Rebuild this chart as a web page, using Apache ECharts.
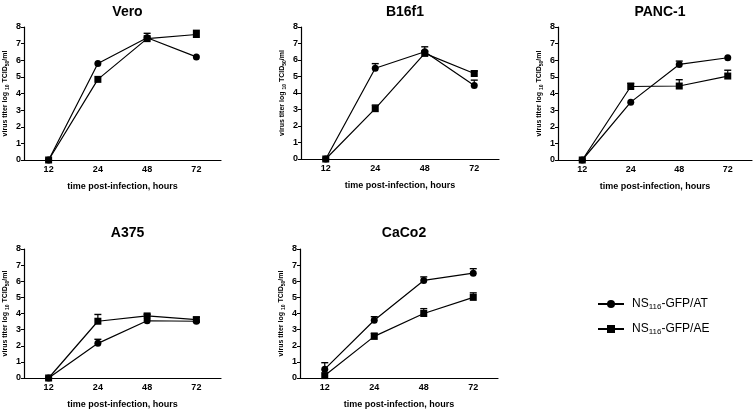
<!DOCTYPE html>
<html><head><meta charset="utf-8">
<script src="https://cdn.jsdelivr.net/npm/echarts@6/dist/echarts.min.js"></script>
<style>html,body{margin:0;padding:0;background:#fff}#c{width:756px;height:410px}</style>
</head><body><div id="c"></div>
<script>
const hours = ['12', '24', '48', '72'];
const panelNames = ['Vero', 'B16f1', 'PANC-1', 'A375', 'CaCo2'];
const seriesNames = ['NS116-GFP/AT', 'NS116-GFP/AE'];
const yTicks = [0, 8, 1];

const veroAT = [0, 5.8, 7.35, 6.2];
const veroATerr = [0, 0, 0, 0];
const veroAE = [0, 4.85, 7.3, 7.55];
const veroAEerr = [0, 0, 0.32, 0.25];

const b16AT = [0, 5.5, 6.5, 4.45];
const b16ATerr = [0, 0.28, 0.3, 0.33];
const b16AE = [0, 3.05, 6.4, 5.18];
const b16AEerr = [0, 0.22, 0.1, 0.15];

const pancAT = [0, 3.48, 5.75, 6.15];
const pancATerr = [0, 0, 0.2, 0];
const pancAE = [0, 4.42, 4.45, 5.05];
const pancAEerr = [0, 0.2, 0.38, 0.35];

const a375AT = [0, 2.15, 3.55, 3.52];
const a375ATerr = [0, 0.25, 0, 0];
const a375AE = [0, 3.52, 3.85, 3.62];
const a375AEerr = [0, 0.42, 0.1, 0.15];

const cacoAT = [0.55, 3.58, 6.05, 6.5];
const cacoATerr = [0.4, 0.22, 0.22, 0.28];
const cacoAE = [0.15, 2.58, 4.0, 5.0];
const cacoAEerr = [0, 0.2, 0.3, 0.28];

const AT = [veroAT, b16AT, pancAT, a375AT, cacoAT];
const ATerr = [veroATerr, b16ATerr, pancATerr, a375ATerr, cacoATerr];
const AE = [veroAE, b16AE, pancAE, a375AE, cacoAE];
const AEerr = [veroAEerr, b16AEerr, pancAEerr, a375AEerr, cacoAEerr];

// layout
const grids = [
  {left: 24, top: 27, width: 197, height: 133},
  {left: 301, top: 27, width: 198, height: 132},
  {left: 558, top: 27, width: 194, height: 133},
  {left: 24, top: 249, width: 197, height: 132},
  {left: 300, top: 249, width: 198, height: 132}
];
const FONT = '"Liberation Sans", Arial, sans-serif';

const chart = echarts.init(document.getElementById('c'));
const option = {
  backgroundColor: '#fff',
  animation: false,
  title: grids.map((g, i) => ({
    text: panelNames[i],
    left: g.left + g.width / 2,
    textAlign: 'center',
    top: i < 3 ? 0 : 221,
    textStyle: {fontFamily: FONT, fontSize: 14, fontWeight: 'bold', color: '#000'}
  })),
  legend: {
    data: seriesNames,
    orient: 'vertical',
    left: 592,
    top: 293,
    itemWidth: 26,
    itemHeight: 10,
    itemGap: 12,
    formatter: n => n.replace('NS116', 'NS{sub|116}'),
    textStyle: {
      fontFamily: FONT, fontSize: 12, color: '#000', padding: [0, 0, 0, 3],
      rich: {sub: {fontFamily: FONT, fontSize: 8, color: '#000', padding: [6, 0, 0, 0]}}
    }
  },
  grid: grids,
  xAxis: grids.map((g, i) => ({
    type: 'category',
    gridIndex: i,
    data: hours,
    boundaryGap: true,
    name: 'time post-infection, hours',
    nameLocation: 'middle',
    nameGap: 22,
    nameTextStyle: {fontFamily: FONT, fontSize: 9, fontWeight: 'bold', color: '#000'},
    axisLine: {lineStyle: {color: '#000', width: 1.2}},
    axisTick: {show: false},
    axisLabel: {fontFamily: FONT, fontSize: 9, fontWeight: 'bold', color: '#000', margin: 5},
    splitLine: {show: false}
  })),
  yAxis: grids.map((g, i) => ({
    type: 'value',
    gridIndex: i,
    min: yTicks[0],
    max: yTicks[1],
    interval: yTicks[2],
    name: 'virus titer log {sub|10} TCID{sub|50}/ml',
    nameLocation: 'middle',
    nameGap: 14,
    nameRotate: 90,
    nameTextStyle: {
      fontFamily: FONT, fontSize: 7, fontWeight: 'bold', color: '#000',
      rich: {sub: {fontFamily: FONT, fontSize: 5, fontWeight: 'bold', color: '#000', padding: [4, 0, 0, 0]}}
    },
    axisLine: {show: true, lineStyle: {color: '#000', width: 1.2}},
    axisTick: {show: true, length: 3, lineStyle: {color: '#000'}},
    axisLabel: {fontFamily: FONT, fontSize: 9, fontWeight: 'bold', color: '#000', margin: 3},
    splitLine: {show: false}
  })),
  series: []
};

function errSeries(i, vals, errs) {
  return {
    type: 'custom',
    xAxisIndex: i, yAxisIndex: i,
    silent: true,
    z: 1,
    data: vals.map((v, k) => [k, v, v + errs[k]]).filter(d => d[2] > d[1]),
    renderItem: function (params, api) {
      const p = api.coord([api.value(0), api.value(1)]);
      const t = api.coord([api.value(0), api.value(2)]);
      const hw = 3.5;
      return {
        type: 'group',
        children: [
          {type: 'line', shape: {x1: p[0], y1: p[1], x2: t[0], y2: t[1]}, style: {stroke: '#000', lineWidth: 1.2}},
          {type: 'line', shape: {x1: t[0] - hw, y1: t[1], x2: t[0] + hw, y2: t[1]}, style: {stroke: '#000', lineWidth: 1.4}}
        ]
      };
    }
  };
}

for (let i = 0; i < 5; i++) {
  option.series.push(errSeries(i, AT[i], ATerr[i]));
  option.series.push(errSeries(i, AE[i], AEerr[i]));
  option.series.push({
    name: seriesNames[0], type: 'line', xAxisIndex: i, yAxisIndex: i,
    data: AT[i], symbol: 'circle', symbolSize: 7, z: 3,
    lineStyle: {color: '#000', width: 1.2}, itemStyle: {color: '#000'}
  });
  option.series.push({
    name: seriesNames[1], type: 'line', xAxisIndex: i, yAxisIndex: i,
    data: AE[i], symbol: 'rect', symbolSize: 7, z: 3,
    lineStyle: {color: '#000', width: 1.2}, itemStyle: {color: '#000'}
  });
}
chart.setOption(option);
</script>
</body></html>
